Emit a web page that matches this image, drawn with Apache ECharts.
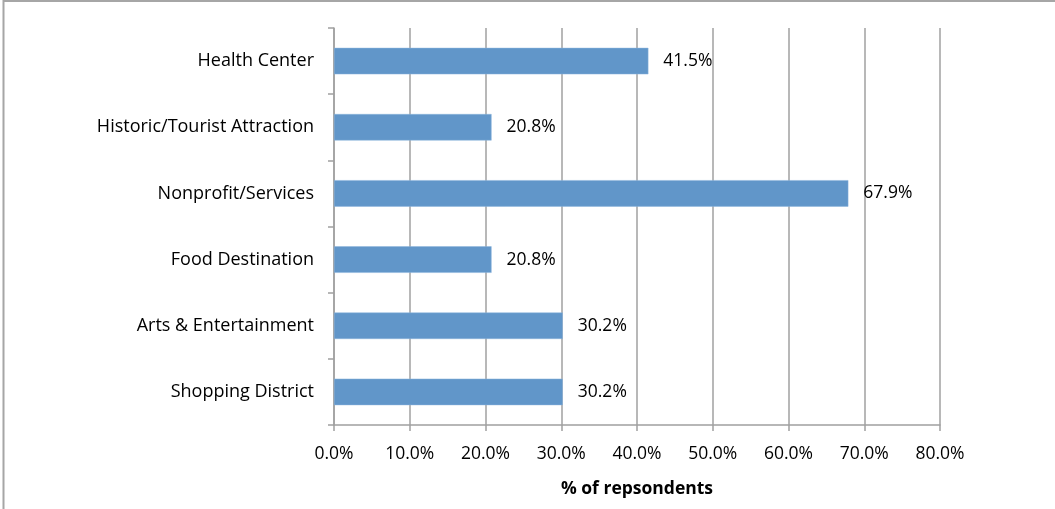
<!DOCTYPE html>
<html>
<head>
<meta charset="utf-8">
<script src="https://cdn.jsdelivr.net/npm/echarts@6/dist/echarts.min.js"></script>
<style>
  html, body { margin: 0; padding: 0; background: #fff; }
  #chart { width: 1055px; height: 509px; }
</style>
</head>
<body>
<div id="chart"></div>
<script>
// Destination types, listed bottom to top as drawn on the category axis
const categories = [
  'Shopping District',
  'Arts & Entertainment',
  'Food Destination',
  'Nonprofit/Services',
  'Historic/Tourist Attraction',
  'Health Center'
];
// Share of respondents (%)
const shares = [30.2, 30.2, 20.8, 67.9, 20.8, 41.5];
const axisTitle = '% of repsondents';

const FONT = 'Open Sans';
const chart = echarts.init(document.getElementById('chart'), null, { renderer: 'canvas' });

chart.setOption({
  animation: false,
  backgroundColor: '#ffffff',
  textStyle: { fontFamily: FONT },
  graphic: [
    { type: 'line', shape: { x1: 3.5, y1: 0, x2: 3.5, y2: 509 }, style: { stroke: '#a6a6a6', lineWidth: 2 } },
    { type: 'line', shape: { x1: 3, y1: 1, x2: 1055, y2: 1 }, style: { stroke: '#a6a6a6', lineWidth: 2 } }
  ],
  grid: { left: 334, right: 115, top: 28, bottom: 84, containLabel: false },
  xAxis: {
    type: 'value',
    min: 0,
    max: 80,
    interval: 10,
    name: axisTitle,
    nameLocation: 'middle',
    nameGap: 55,
    nameTextStyle: { fontFamily: FONT, fontSize: 17.5, fontWeight: 'bold', color: '#000' },
    axisLine: { show: true, lineStyle: { color: '#a0a0a0', width: 1.5 } },
    axisTick: { show: true, length: 6, lineStyle: { color: '#a0a0a0', width: 1.5 } },
    axisLabel: { margin: 20, fontSize: 17.5, color: '#000', formatter: v => v.toFixed(1) + '%' },
    splitLine: { show: true, lineStyle: { color: '#a0a0a0', width: 1.5 } }
  },
  yAxis: {
    type: 'category',
    data: categories,
    axisLine: { show: true, lineStyle: { color: '#a0a0a0', width: 1.5 } },
    axisTick: { show: true, length: 6, lineStyle: { color: '#a0a0a0', width: 1.5 } },
    axisLabel: { margin: 20, fontSize: 18, color: '#000' },
    splitLine: { show: false }
  },
  series: [{
    type: 'bar',
    data: shares,
    barWidth: '40%',
    itemStyle: { color: '#6196c9', borderColor: '#8db4dc', borderWidth: 0.5 },
    label: {
      show: true,
      position: 'right',
      distance: 15,
      fontSize: 17.5,
      color: '#000',
      formatter: p => p.value.toFixed(1) + '%'
    }
  }]
});
</script>
</body>
</html>
